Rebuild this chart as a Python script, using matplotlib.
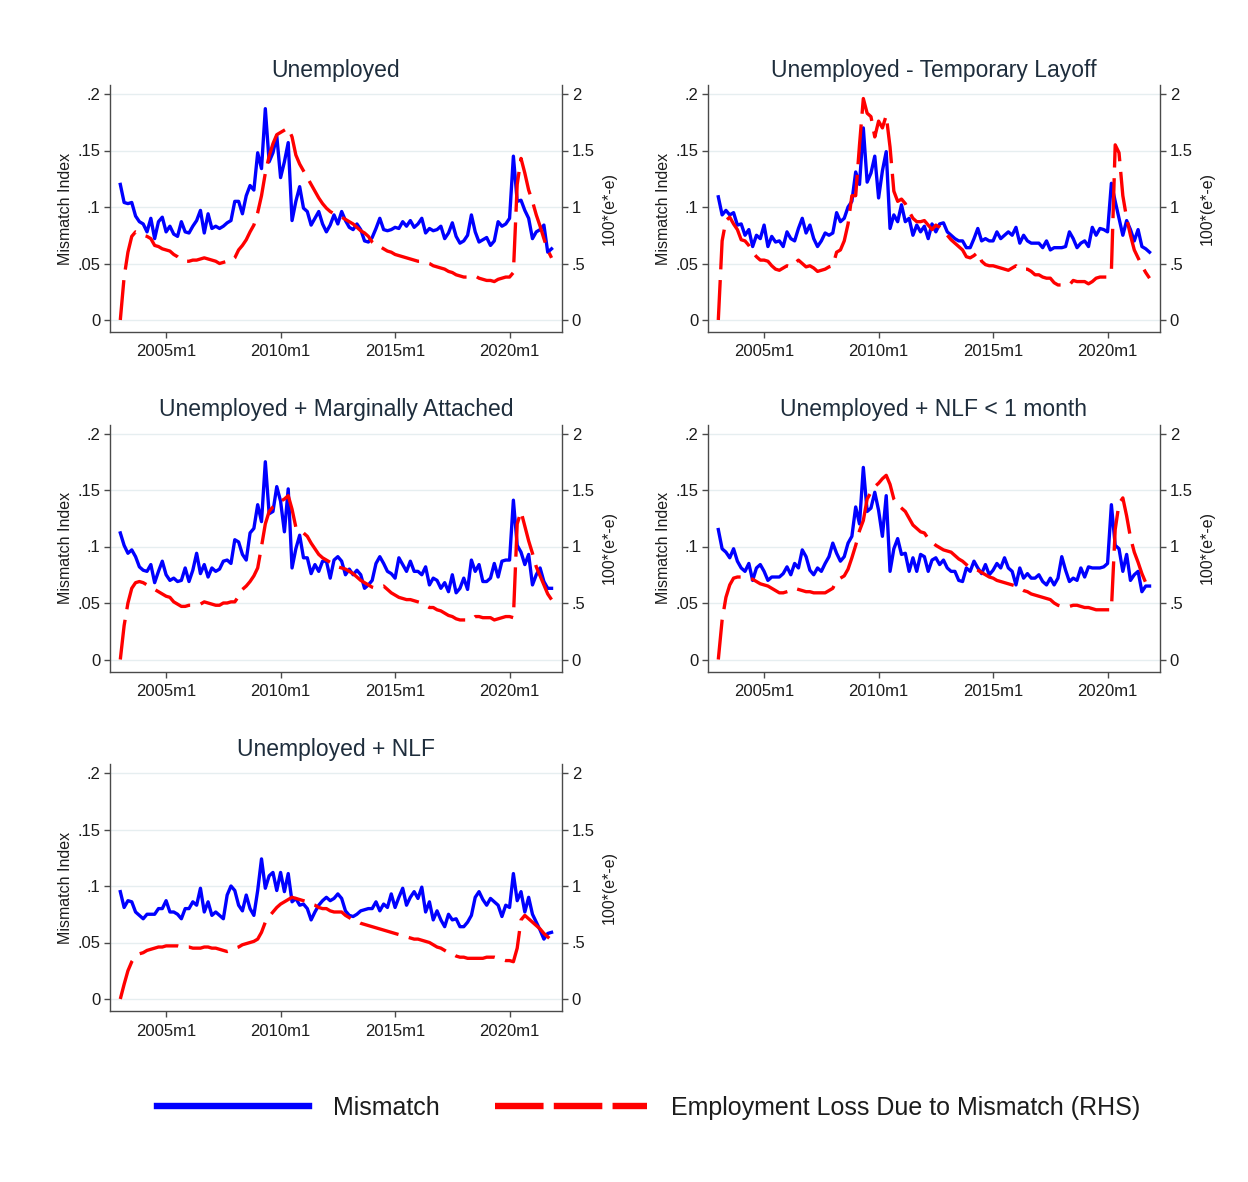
import numpy as np
import matplotlib.pyplot as plt
from matplotlib.lines import Line2D

plt.rcParams['font.family'] = ['Liberation Sans', 'DejaVu Sans']

# bimonthly observations, 2003m1 .. 2021m11
months = np.arange(0, 228, 2)
t = 2003 + months / 12.0

xticks = [2005, 2010, 2015, 2020]
xticklabels = ['2005m1', '2010m1', '2015m1', '2020m1']
lticks = [0, 0.05, 0.1, 0.15, 0.2]
lticklabels = ['0', '.05', '.1', '.15', '.2']
rticks = [0, 0.5, 1, 1.5, 2]
rticklabels = ['0', '.5', '1', '1.5', '2']

titles = ['Unemployed', 'Unemployed - Temporary Layoff',
          'Unemployed + Marginally Attached', 'Unemployed + NLF < 1 month',
          'Unemployed + NLF']

# Unemployed
u_mis = [.120, .104, .103, .104, .092, .087,
         .085, .078, .090, .072, .087, .091,
         .078, .083, .076, .074, .087, .078,
         .077, .083, .088, .097, .077, .094,
         .081, .083, .081, .083, .086, .088,
         .105, .105, .094, .110, .119, .115,
         .148, .134, .187, .140, .148, .163,
         .126, .140, .157, .088, .105, .118,
         .099, .096, .084, .090, .096, .085,
         .078, .084, .093, .085, .096, .088,
         .082, .080, .085, .080, .070, .069,
         .073, .081, .090, .080, .079, .080,
         .082, .081, .087, .083, .088, .082,
         .085, .090, .077, .081, .079, .080,
         .083, .072, .077, .086, .074, .068,
         .070, .075, .093, .078, .069, .071,
         .073, .066, .070, .087, .083, .085,
         .090, .145, .105, .106, .097, .090,
         .072, .078, .080, .084, .060, .063]
u_loss = [0.00, 0.38, 0.60, 0.74, 0.78, 0.77,
          0.75, 0.74, 0.72, 0.66, 0.65, 0.63,
          0.62, 0.61, 0.58, 0.56, 0.53, 0.52,
          0.52, 0.53, 0.53, 0.54, 0.55, 0.54,
          0.53, 0.52, 0.50, 0.51, 0.52, 0.52,
          0.55, 0.62, 0.66, 0.71, 0.78, 0.84,
          0.95, 1.10, 1.30, 1.45, 1.56, 1.64,
          1.66, 1.68, 1.70, 1.62, 1.46, 1.38,
          1.32, 1.26, 1.20, 1.14, 1.08, 1.03,
          0.99, 0.96, 0.94, 0.93, 0.91, 0.89,
          0.87, 0.85, 0.82, 0.79, 0.77, 0.74,
          0.69, 0.66, 0.65, 0.63, 0.61, 0.60,
          0.58, 0.57, 0.56, 0.55, 0.54, 0.53,
          0.52, 0.52, 0.51, 0.50, 0.48, 0.47,
          0.46, 0.45, 0.43, 0.42, 0.40, 0.39,
          0.38, 0.38, 0.39, 0.39, 0.37, 0.36,
          0.35, 0.35, 0.34, 0.36, 0.37, 0.38,
          0.38, 0.42, 1.20, 1.43, 1.30, 1.15,
          1.05, 0.93, 0.83, 0.72, 0.62, 0.55]

# Unemployed - Temporary Layoff
tl_mis = [.109, .093, .097, .093, .095, .084,
          .085, .075, .080, .065, .075, .072,
          .084, .065, .074, .069, .070, .065,
          .078, .072, .070, .081, .090, .077,
          .084, .072, .065, .070, .077, .075,
          .077, .095, .087, .090, .100, .105,
          .131, .120, .170, .122, .130, .145,
          .108, .132, .149, .081, .093, .087,
          .102, .087, .090, .075, .084, .078,
          .083, .072, .085, .078, .085, .086,
          .078, .075, .072, .070, .070, .064,
          .064, .072, .081, .070, .072, .070,
          .070, .078, .072, .075, .078, .075,
          .082, .068, .075, .070, .068, .068,
          .068, .064, .070, .062, .064, .064,
          .064, .065, .078, .072, .064, .068,
          .070, .065, .082, .075, .081, .080,
          .078, .121, .105, .090, .075, .088,
          .080, .070, .080, .065, .063, .060]
tl_loss = [0.00, 0.70, 0.88, 0.91, 0.85, 0.80,
           0.71, 0.70, 0.66, 0.60, 0.56, 0.53,
           0.53, 0.52, 0.48, 0.45, 0.44, 0.46,
           0.48, 0.47, 0.50, 0.53, 0.50, 0.47,
           0.48, 0.46, 0.43, 0.44, 0.45, 0.47,
           0.48, 0.60, 0.62, 0.70, 0.85, 1.10,
           1.10, 1.55, 1.96, 1.83, 1.80, 1.62,
           1.76, 1.70, 1.81, 1.53, 1.14, 1.05,
           1.07, 1.03, 0.96, 0.90, 0.87, 0.87,
           0.88, 0.84, 0.80, 0.84, 0.82, 0.78,
           0.75, 0.71, 0.68, 0.65, 0.62, 0.56,
           0.55, 0.57, 0.60, 0.52, 0.49, 0.48,
           0.48, 0.47, 0.46, 0.45, 0.44, 0.46,
           0.48, 0.45, 0.45, 0.45, 0.43, 0.40,
           0.40, 0.38, 0.37, 0.37, 0.33, 0.31,
           0.31, 0.31, 0.31, 0.35, 0.34, 0.34,
           0.34, 0.32, 0.34, 0.37, 0.38, 0.38,
           0.38, 0.43, 1.55, 1.48, 1.10, 0.90,
           0.75, 0.62, 0.55, 0.48, 0.42, 0.37]

# Unemployed + Marginally Attached
ma_mis = [.112, .101, .094, .097, .091, .082,
          .079, .078, .084, .068, .078, .087,
          .075, .070, .072, .069, .070, .081,
          .069, .079, .094, .076, .084, .073,
          .081, .078, .080, .087, .088, .085,
          .106, .104, .093, .088, .112, .116,
          .137, .122, .175, .129, .131, .153,
          .140, .113, .151, .081, .098, .110,
          .090, .090, .076, .084, .078, .087,
          .087, .072, .088, .091, .087, .075,
          .080, .075, .079, .075, .063, .066,
          .070, .085, .091, .085, .078, .076,
          .072, .090, .084, .078, .087, .078,
          .078, .075, .082, .066, .072, .070,
          .063, .068, .060, .075, .059, .063,
          .072, .062, .088, .078, .084, .069,
          .069, .072, .085, .073, .087, .088,
          .088, .141, .101, .095, .084, .093,
          .066, .075, .081, .069, .063, .063]
ma_loss = [0.00, 0.30, 0.50, 0.63, 0.68, 0.69,
           0.68, 0.66, 0.64, 0.62, 0.60, 0.58,
           0.56, 0.55, 0.51, 0.49, 0.47, 0.47,
           0.48, 0.48, 0.48, 0.49, 0.51, 0.50,
           0.49, 0.48, 0.48, 0.50, 0.50, 0.51,
           0.51, 0.56, 0.62, 0.65, 0.69, 0.74,
           0.81, 1.00, 1.20, 1.31, 1.35, 1.37,
           1.40, 1.42, 1.45, 1.33, 1.17, 1.13,
           1.12, 1.09, 1.03, 0.98, 0.93, 0.90,
           0.88, 0.86, 0.83, 0.82, 0.81, 0.80,
           0.78, 0.76, 0.73, 0.70, 0.68, 0.66,
           0.64, 0.63, 0.64, 0.65, 0.62, 0.59,
           0.57, 0.55, 0.54, 0.53, 0.53, 0.52,
           0.51, 0.50, 0.48, 0.46, 0.46, 0.44,
           0.43, 0.41, 0.39, 0.38, 0.36, 0.35,
           0.35, 0.35, 0.35, 0.38, 0.38, 0.37,
           0.37, 0.37, 0.35, 0.36, 0.37, 0.38,
           0.38, 0.37, 1.20, 1.31, 1.18, 1.05,
           0.94, 0.82, 0.74, 0.66, 0.58, 0.53]

# Unemployed + NLF < 1 month
nlf1_mis = [.115, .098, .095, .090, .098, .087,
            .081, .078, .085, .070, .081, .084,
            .078, .070, .073, .073, .073, .076,
            .082, .075, .085, .081, .097, .091,
            .079, .075, .081, .078, .085, .091,
            .103, .094, .087, .091, .103, .109,
            .135, .120, .170, .131, .134, .148,
            .132, .109, .145, .078, .098, .107,
            .093, .094, .078, .090, .078, .093,
            .091, .078, .088, .090, .084, .088,
            .081, .078, .078, .070, .069, .081,
            .078, .087, .081, .076, .084, .075,
            .079, .085, .081, .090, .081, .078,
            .066, .081, .072, .076, .072, .072,
            .075, .069, .066, .072, .066, .072,
            .091, .079, .069, .072, .070, .081,
            .073, .082, .081, .081, .081, .082,
            .085, .137, .101, .098, .078, .093,
            .070, .075, .078, .060, .065, .065]
nlf1_loss = [0.00, 0.35, 0.55, 0.66, 0.72, 0.73,
             0.73, 0.73, 0.72, 0.71, 0.69, 0.67,
             0.66, 0.65, 0.63, 0.61, 0.59, 0.59,
             0.60, 0.61, 0.63, 0.62, 0.61, 0.60,
             0.60, 0.59, 0.59, 0.59, 0.59, 0.61,
             0.63, 0.70, 0.72, 0.74, 0.80, 0.90,
             1.01, 1.14, 1.23, 1.42, 1.48, 1.53,
             1.56, 1.60, 1.63, 1.55, 1.42, 1.37,
             1.34, 1.31, 1.25, 1.19, 1.16, 1.13,
             1.12, 1.07, 1.04, 1.01, 0.99, 0.97,
             0.96, 0.95, 0.92, 0.89, 0.87, 0.84,
             0.81, 0.80, 0.79, 0.77, 0.75, 0.73,
             0.72, 0.70, 0.69, 0.68, 0.67, 0.66,
             0.65, 0.63, 0.61, 0.60, 0.58, 0.57,
             0.56, 0.55, 0.54, 0.53, 0.50, 0.48,
             0.47, 0.47, 0.47, 0.48, 0.48, 0.47,
             0.46, 0.46, 0.45, 0.44, 0.44, 0.44,
             0.44, 0.44, 1.15, 1.38, 1.43, 1.27,
             1.08, 0.95, 0.86, 0.76, 0.68, 0.62]

# Unemployed + NLF
nlf_mis = [.095, .081, .087, .086, .077, .074,
           .071, .075, .075, .075, .080, .080,
           .087, .077, .077, .075, .071, .080,
           .080, .086, .083, .098, .077, .086,
           .074, .077, .074, .071, .092, .100,
           .096, .083, .078, .092, .080, .074,
           .096, .124, .098, .109, .112, .096,
           .112, .095, .111, .086, .089, .083,
           .084, .080, .070, .077, .083, .087,
           .090, .087, .089, .093, .089, .078,
           .074, .073, .075, .078, .079, .080,
           .080, .086, .078, .084, .081, .093,
           .081, .090, .098, .083, .090, .095,
           .089, .099, .077, .086, .070, .078,
           .070, .064, .075, .070, .071, .064,
           .064, .068, .074, .090, .095, .088,
           .083, .089, .086, .083, .073, .083,
           .081, .111, .087, .095, .077, .090,
           .075, .068, .061, .053, .058, .059]
nlf_loss = [0.00, 0.13, 0.25, 0.33, 0.38, 0.40,
            0.41, 0.43, 0.44, 0.45, 0.46, 0.46,
            0.47, 0.47, 0.47, 0.47, 0.46, 0.46,
            0.46, 0.45, 0.45, 0.45, 0.46, 0.46,
            0.45, 0.45, 0.44, 0.43, 0.42, 0.43,
            0.45, 0.46, 0.48, 0.49, 0.50, 0.51,
            0.53, 0.59, 0.68, 0.73, 0.77, 0.81,
            0.84, 0.86, 0.88, 0.90, 0.89, 0.88,
            0.87, 0.86, 0.84, 0.83, 0.81, 0.80,
            0.80, 0.78, 0.77, 0.77, 0.77, 0.74,
            0.72, 0.70, 0.69, 0.67, 0.66, 0.65,
            0.64, 0.63, 0.62, 0.61, 0.60, 0.59,
            0.58, 0.57, 0.56, 0.55, 0.54, 0.53,
            0.53, 0.52, 0.51, 0.50, 0.48, 0.46,
            0.45, 0.43, 0.41, 0.40, 0.38, 0.37,
            0.37, 0.36, 0.36, 0.36, 0.36, 0.36,
            0.37, 0.37, 0.37, 0.36, 0.35, 0.34,
            0.34, 0.33, 0.45, 0.70, 0.74, 0.71,
            0.68, 0.65, 0.62, 0.58, 0.55, 0.52]

series = [(u_mis, u_loss), (tl_mis, tl_loss), (ma_mis, ma_loss),
          (nlf1_mis, nlf1_loss), (nlf_mis, nlf_loss)]

W, H = 1248, 1182
fig = plt.figure(figsize=(W / 100, H / 100), dpi=100)
fig.patch.set_facecolor('white')

AX_C = '#4a4a4a'
TXT_C = '#1c1c1c'
TITLE_C = '#1e2d3c'
GRID_C = '#e6eef0'

# pixel layout: left edge of each column, zero line of each row
col_left = [110, 708]
row_zero = [320, 659.5, 999]
plot_w = 452
px_per_unit = 1130.0
top_pad, bot_pad = 235, 12   # pixels above 0 and below 0 inside the frame

for i, (mis, loss) in enumerate(series):
    c, r = i % 2, i // 2
    left = col_left[c]
    top = row_zero[r] - top_pad
    bottom = row_zero[r] + bot_pad
    ax = fig.add_axes([left / W, 1 - bottom / H, plot_w / W, (bottom - top) / H])
    ylo, yhi = -bot_pad / px_per_unit, top_pad / px_per_unit

    for y in lticks:
        ax.axhline(y, color=GRID_C, lw=1.0, zorder=0)
    ax.plot(t, mis, color='#0000ff', lw=2.4, zorder=3, solid_joinstyle='round')
    ax.set_xlim(2002.55, 2022.29)
    ax.set_ylim(ylo, yhi)
    ax.set_xticks(xticks)
    ax.set_xticklabels(xticklabels)
    ax.set_yticks(lticks)
    ax.set_yticklabels(lticklabels)
    ax.set_ylabel('Mismatch Index', fontsize=11.5, color=TXT_C, labelpad=3)
    ax.set_title(titles[i], fontsize=16.5, color=TITLE_C, pad=6)

    ax2 = ax.twinx()
    ax2.plot(t, loss, color='#ff0000', lw=2.4, dashes=(12, 3.2), zorder=4)
    ax2.set_ylim(ylo * 10, yhi * 10)
    ax2.set_yticks(rticks)
    ax2.set_yticklabels(rticklabels)
    ax2.set_ylabel('100*(e*-e)', fontsize=11.5, color=TXT_C, labelpad=5)

    for a in (ax, ax2):
        a.patch.set_visible(False)
        a.spines['top'].set_visible(False)
        for s in a.spines.values():
            s.set_color(AX_C)
            s.set_linewidth(1.0)
        a.tick_params(direction='out', length=4, width=1, color=AX_C,
                      labelsize=12, labelcolor=TXT_C, pad=3)
    ax.tick_params(axis='x', pad=5)
    ax.spines['right'].set_visible(False)
    ax2.spines['left'].set_visible(False)
    ax2.spines['bottom'].set_visible(False)

handles = [Line2D([], [], color='#0000ff', lw=4.6),
           Line2D([], [], color='#ff0000', lw=4.6, dashes=(7.6, 1.6))]
fig.legend(handles, ['Mismatch', 'Employment Loss Due to Mismatch (RHS)'],
           loc='center', bbox_to_anchor=(648.5 / W, 1 - 1108 / H), ncol=2,
           frameon=False, fontsize=18, handlelength=6.1, handletextpad=0.95,
           columnspacing=2.2, labelcolor=TXT_C)

fig.savefig('out.png', dpi=100, facecolor='white')
